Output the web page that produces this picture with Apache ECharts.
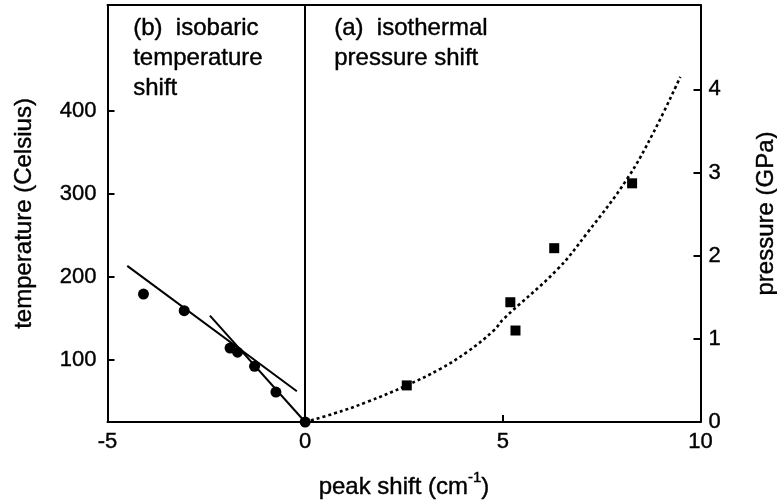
<!DOCTYPE html>
<html>
<head>
<meta charset="utf-8">
<script src="https://cdn.jsdelivr.net/npm/echarts@6/dist/echarts.min.js"></script>
<style>
html,body{margin:0;padding:0;background:#fff;}
#chart{width:777px;height:502px;}
</style>
</head>
<body>
<div id="chart"></div>
<script>
// ---- data ----
const xTicks = [-5, 0, 5, 10];
const tempTicks = [100, 200, 300, 400];
const pressTicks = [0, 1, 2, 3, 4];

// (b) isobaric temperature shift: circles
const tempShift = [-4.09, -3.06, -1.90, -1.71, -1.28, -0.74, 0];
const tempValues = [179, 159, 114, 109, 92, 61, 25];

// fitted straight lines
const fit1Shift = [-4.50, -0.21];
const fit1Temp = [213, 62];
const fit2Shift = [-2.41, 0];
const fit2Temp = [153, 25];

// (a) isothermal pressure shift: squares
const pressShift = [2.57, 5.19, 5.32, 6.30, 8.27];
const pressValues = [0.44, 1.44, 1.10, 2.09, 2.87];

// dotted fit curve
const curveShift = [0, 0.72, 1.56, 2.57, 3.42, 4.09, 4.77, 5.02, 6.37, 7.13, 8.14, 8.82, 9.49];
const curvePress = [0, 0.10, 0.24, 0.44, 0.64, 0.84, 1.10, 1.24, 1.83, 2.27, 2.92, 3.49, 4.15];

const zip = (a, b) => a.map((v, i) => [v, b[i]]);

const FONT = 'Liberation Sans, Arial, Helvetica, sans-serif';
const lineBlack = { color: '#000', width: 2 };
const heavy = { textBorderColor: '#000', textBorderWidth: 0.4 };

const chart = echarts.init(document.getElementById('chart'), null, { renderer: 'canvas' });
chart.setOption({
  animation: false,
  backgroundColor: '#fff',
  textStyle: { fontFamily: FONT, color: '#000' },
  grid: { left: 107.5, right: 76.5, top: 5, bottom: 80, containLabel: false, outerBoundsMode: 'none' },
  xAxis: [{
    type: 'value', min: -5, max: 10, interval: 5,
    position: 'bottom',
    axisLine: { show: true, onZero: false, lineStyle: lineBlack },
    axisTick: { show: true, inside: true, length: 7, lineStyle: lineBlack, customValues: xTicks },
    axisLabel: Object.assign({ show: true, color: '#000', fontFamily: FONT, fontSize: 22, margin: 9, customValues: xTicks }, heavy),
    splitLine: { show: false },
    name: '{m|peak shift (cm}{s|-1}{m|)}',
    nameLocation: 'middle', nameGap: 48,
    nameTextStyle: {
      fontFamily: FONT, color: '#000', fontSize: 24,
      rich: {
        m: Object.assign({ fontFamily: FONT, fontSize: 24, color: '#000' }, heavy),
        s: Object.assign({ fontFamily: FONT, fontSize: 15, color: '#000', verticalAlign: 'top', padding: [0, 0, 20, 0] }, heavy)
      }
    }
  }, {
    type: 'value', min: -5, max: 10, position: 'top',
    axisLine: { show: true, onZero: false, lineStyle: lineBlack },
    axisTick: { show: false }, axisLabel: { show: false }, splitLine: { show: false }
  }],
  yAxis: [{
    type: 'value', min: 25, max: 527, position: 'left',
    axisLine: { show: true, onZero: false, lineStyle: lineBlack },
    axisTick: { show: true, inside: true, length: 7, lineStyle: lineBlack, customValues: tempTicks },
    axisLabel: Object.assign({ show: true, color: '#000', fontFamily: FONT, fontSize: 22, margin: 11, customValues: tempTicks }, heavy),
    splitLine: { show: false },
    name: 'temperature (Celsius)', nameLocation: 'middle', nameGap: 71, nameRotate: 90,
    nameTextStyle: Object.assign({ fontFamily: FONT, color: '#000', fontSize: 24 }, heavy)
  }, {
    type: 'value', min: 0, max: 5.014, position: 'right',
    axisLine: { show: true, onZero: false, lineStyle: lineBlack },
    axisTick: { show: true, inside: true, length: 7, lineStyle: lineBlack, customValues: pressTicks },
    axisLabel: Object.assign({ show: true, color: '#000', fontFamily: FONT, fontSize: 22, margin: 8, customValues: pressTicks }, heavy),
    splitLine: { show: false },
    name: 'pressure (GPa)', nameLocation: 'middle', nameGap: 54, nameRotate: 90,
    nameTextStyle: Object.assign({ fontFamily: FONT, color: '#000', fontSize: 24 }, heavy)
  }],
  series: [
    {
      type: 'line', xAxisIndex: 0, yAxisIndex: 0, data: zip(fit1Shift, fit1Temp),
      symbol: 'none', lineStyle: { color: '#000', width: 2 }, z: 3
    },
    {
      type: 'line', xAxisIndex: 0, yAxisIndex: 0, data: zip(fit2Shift, fit2Temp),
      symbol: 'none', lineStyle: { color: '#000', width: 2 }, z: 3
    },
    {
      type: 'line', xAxisIndex: 0, yAxisIndex: 1, data: zip(curveShift, curvePress),
      symbol: 'none', smooth: 0.4,
      lineStyle: { color: '#000', width: 2.6, type: [3, 3] }, z: 3,
      markLine: {
        silent: true, symbol: 'none', label: { show: false },
        lineStyle: { color: '#000', width: 2, type: 'solid' },
        data: [{ xAxis: 0 }]
      }
    },
    {
      type: 'scatter', xAxisIndex: 0, yAxisIndex: 0, data: zip(tempShift, tempValues),
      symbol: 'circle', symbolSize: 11, itemStyle: { color: '#000', opacity: 1 }, z: 5
    },
    {
      type: 'scatter', xAxisIndex: 0, yAxisIndex: 1, data: zip(pressShift, pressValues),
      symbol: 'rect', symbolSize: 10, itemStyle: { color: '#000', opacity: 1 }, z: 5
    }
  ],
  graphic: [
    {
      type: 'text', left: 133, top: 13,
      style: { text: '(b)  isobaric\ntemperature\nshift', font: '24px ' + FONT, fill: '#000', lineHeight: 30, stroke: '#000', lineWidth: 0.4 }
    },
    {
      type: 'text', left: 334, top: 13,
      style: { text: '(a)  isothermal\npressure shift', font: '24px ' + FONT, fill: '#000', lineHeight: 30, stroke: '#000', lineWidth: 0.4 }
    }
  ]
});
</script>
</body>
</html>
